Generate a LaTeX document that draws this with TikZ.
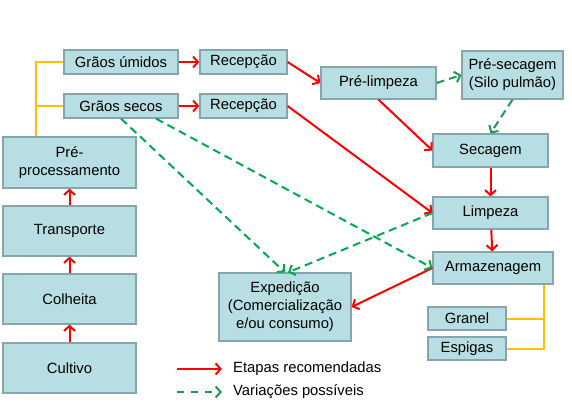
\documentclass[tikz,border=0pt]{standalone}
\usepackage{fontspec}
\setmainfont{Liberation Sans}
\usetikzlibrary{arrows.meta,calc}
\definecolor{boxfill}{RGB}{183,222,226}
\definecolor{boxline}{RGB}{135,165,172}
\definecolor{myred}{RGB}{255,0,0}
\definecolor{mygreen}{RGB}{0,170,80}
\definecolor{mydkgreen}{RGB}{35,150,85}
\definecolor{myorange}{RGB}{255,192,0}
\tikzset{
  box/.style={draw=boxline, fill=boxfill, line width=1.2pt, inner sep=0pt, align=center,
    font=\fontsize{14.8}{18}\selectfont},
  rec/.style={-{Straight Barb[length=5pt,width=11pt]}, draw=myred, line width=2pt},
  var/.style={-{Straight Barb[length=5pt,width=11pt]}, draw=mygreen, line width=2pt, dash pattern=on 8pt off 5pt},
  vardk/.style={var, draw=mydkgreen},
  brk/.style={draw=myorange, line width=2pt},
  legtext/.style={anchor=west, inner sep=0pt, font=\fontsize{14.8}{18}\selectfont}
}
\begin{document}
\begin{tikzpicture}[x=1pt,y=-1pt]
\useasboundingbox (0,0) rectangle (572,417);
% nodes
\node[box, minimum width=114pt, minimum height=24pt] (gu) at (121,62) {Grãos úmidos};
\node[box, minimum width=87pt, minimum height=24pt] (rec1) at (243.5,62) {Recepção};
\node[box, minimum width=114pt, minimum height=24pt] (gs) at (121,106) {Grãos secos};
\node[box, minimum width=87pt, minimum height=24pt] (rec2) at (243.5,106) {Recepção};
\node[box, minimum width=133pt, minimum height=51pt] (pp) at (69.5,162.5) {Pré-\\processamento};
\node[box, minimum width=133pt, minimum height=50pt] (tr) at (69.5,231) {Transporte};
\node[box, minimum width=133pt, minimum height=50pt] (co) at (69.5,299) {Colheita};
\node[box, minimum width=133pt, minimum height=50pt] (cu) at (69.5,368) {Cultivo};
\node[box, minimum width=115pt, minimum height=32pt] (pl) at (378.5,83) {Pré-limpeza};
\node[box, minimum width=101pt, minimum height=48pt] (ps) at (512.5,75) {Pré-secagem\\(Silo pulmão)};
\node[box, minimum width=115pt, minimum height=33pt] (se) at (490.5,150.5) {Secagem};
\node[box, minimum width=115pt, minimum height=32pt] (li) at (490.5,213) {Limpeza};
\node[box, minimum width=120pt, minimum height=32pt] (ar) at (493,268) {Armazenagem};
\node[box, minimum width=78pt, minimum height=23pt] (gr) at (467,318.5) {Granel};
\node[box, minimum width=78pt, minimum height=23pt] (es) at (467,348.5) {Espigas};
\node[box, minimum width=132pt, minimum height=68pt] (ex) at (285,307) {Expedição\\(Comercialização\\e/ou consumo)};
% orange brackets
\coordinate (lb) at (36,62);
\draw[brk] (pp.north -| lb) -- (lb) -- (gu.west);
\draw[brk] (lb |- gs.west) -- (gs.west);
\coordinate (rb) at (544,348.5);
\draw[brk] (ar.south -| rb) -- (rb) -- (es.east);
\draw[brk] (rb |- gr.east) -- (gr.east);
% recommended
\draw[rec] (cu) -- (co);
\draw[rec] (co) -- (tr);
\draw[rec] (tr) -- (pp);
\draw[rec] (gu) -- (rec1);
\draw[rec] (gs) -- (rec2);
\draw[rec] (rec1.east) -- (pl.west);
\draw[rec] (rec2.east) -- (li.west);
\draw[rec] (pl.south) -- (se.west);
\draw[rec] (se) -- (li);
\draw[rec] (li) -- (ar);
\draw[rec] (ar.west) -- (ex.east);
% variations
\draw[vardk] (pl.east) -- (ps.west);
\draw[vardk] (ps.south) -- (se.north);
\draw[var] (gs.south) -- (ex.north);
\draw[var] ($(gs.south)+(35,0)$) -- (ar.west);
\draw[var] (li.west) -- ($(ex.north)+(3,0)$);
% legend
\coordinate (l1a) at (177,369);
\coordinate (l1b) at (222,369);
\coordinate (l2a) at (177,392);
\coordinate (l2b) at (222,392);
\draw[rec] (l1a) -- (l1b);
\draw[vardk, dash pattern=on 7pt off 7pt] (l2a) -- (l2b);
\node[legtext] (t1) at (233,369) {Etapas recomendadas};
\node[legtext] (t2) at (233,392) {Variações possíveis};
\end{tikzpicture}
\end{document}
